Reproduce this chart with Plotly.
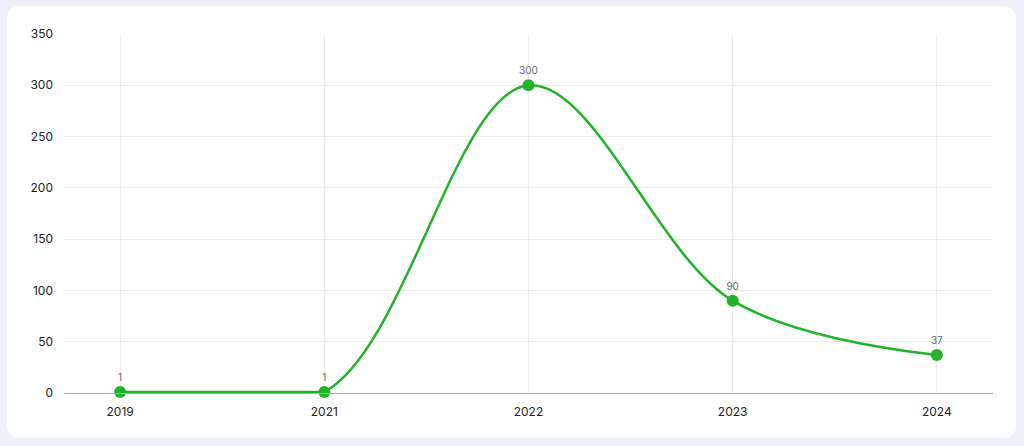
import plotly.graph_objects as go

years = ["2019", "2021", "2022", "2023", "2024"]
values = [1, 1, 300, 90, 37]
y_ticks = [0, 50, 100, 150, 200, 250, 300, 350]

W, H = 1024, 446
ml, mr, mt, mb = 64, 31, 34, 53
pw, ph = W - ml - mr, H - mt - mb

def px_x(v):
    return (v - ml) / pw

def px_y(v):
    return (H - mb - v) / ph

x0, x1 = px_x(7), px_x(1016)
y0, y1 = px_y(438), px_y(6)
rx, ry = 14 / pw, 14 / ph
card = (f"M {x0+rx},{y0} L {x1-rx},{y0} Q {x1},{y0} {x1},{y0+ry} "
        f"L {x1},{y1-ry} Q {x1},{y1} {x1-rx},{y1} L {x0+rx},{y1} "
        f"Q {x0},{y1} {x0},{y1-ry} L {x0},{y0+ry} Q {x0},{y0} {x0+rx},{y0} Z")

GREEN = "#22b32a"
fig = go.Figure()
# flat leading segment (the smooth curve dips below the axis there and is clipped)
fig.add_trace(go.Scatter(
    x=years[:2], y=values[:2], mode="lines",
    line=dict(color=GREEN, width=2.5), hoverinfo="skip",
))
fig.add_trace(go.Scatter(
    x=years, y=values, mode="lines+markers+text",
    line=dict(color=GREEN, width=2.5, shape="spline", smoothing=1.0),
    marker=dict(color=GREEN, size=12),
    text=[str(v) for v in values], textposition="top center",
    textfont=dict(size=10, color="#666666", family="Inter"),
    cliponaxis=False, hoverinfo="x+y",
))

fig.update_layout(
    width=W, height=H,
    margin=dict(l=ml, r=mr, t=mt, b=mb),
    paper_bgcolor="#edf0f9", plot_bgcolor="rgba(0,0,0,0)",
    showlegend=False,
    font=dict(family="Inter", size=12, color="#222222"),
    shapes=[dict(type="path", path=card, xref="paper", yref="paper",
                 fillcolor="#ffffff", line=dict(width=0), layer="below")],
    xaxis=dict(type="category", range=[-0.275, 4.275], showgrid=True,
               gridcolor="#ececf0", gridwidth=1, showline=True, linecolor="#aaaaaa",
               linewidth=1, ticks="", ticklabelstandoff=8, zeroline=False,
               tickfont=dict(size=12, color="#222222")),
    yaxis=dict(range=[0, 350], tickvals=y_ticks, showgrid=True,
               gridcolor="#ececf0", gridwidth=1, zeroline=False, showline=False,
               ticks="", ticklabelstandoff=10,
               tickfont=dict(size=12, color="#222222")),
)

fig.write_html("out.html", config={"displayModeBar": False},
               post_script="document.body.style.margin='0';document.body.style.overflow='hidden';")
